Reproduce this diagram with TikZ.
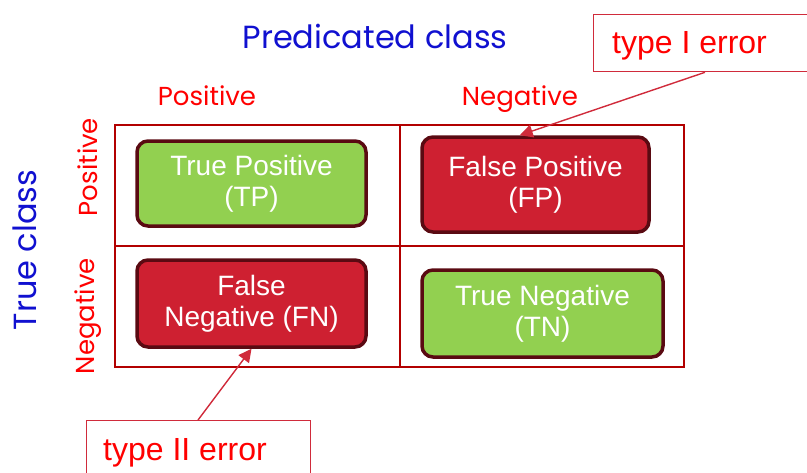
\documentclass[tikz,border=0pt]{standalone}
\usepackage{fontspec}
\setmainfont{Liberation Sans}
\newfontfamily\headfont{Poppins}
\usetikzlibrary{arrows.meta,calc}
\definecolor{gridred}{HTML}{B20000}
\definecolor{labelred}{HTML}{FF0000}
\definecolor{headblue}{HTML}{1010D0}
\definecolor{okgreen}{HTML}{92D050}
\definecolor{errred}{HTML}{CE2031}
\definecolor{rimdark}{HTML}{5A0A12}
\definecolor{calloutred}{HTML}{D02B3B}
\tikzset{
  cellbox/.style={rectangle, rounded corners=11pt, line width=3.5pt, draw=rimdark,
    text=white, align=center, inner sep=0pt,
    font=\fontsize{28}{31}\selectfont},
  goodbox/.style={cellbox, fill=okgreen},
  badbox/.style={cellbox, fill=errred},
  axislabel/.style={text=headblue, font=\headfont\fontsize{32}{36}\selectfont, inner sep=0pt},
  classlabel/.style={text=labelred, font=\headfont\fontsize{26}{30}\selectfont, inner sep=0pt},
  callout/.style={rectangle, draw=calloutred, line width=1.3pt, fill=white,
    anchor=north west, inner sep=0pt},
  callouttext/.style={text=labelred, font=\fontsize{32}{36}\selectfont, anchor=base west, inner sep=0pt},
  pointer/.style={draw=calloutred, line width=1.4pt,
    -{Triangle[length=13pt,width=13pt]}}
}
\begin{document}
\begin{tikzpicture}[x=1pt,y=-1pt]
\useasboundingbox (0,0) rectangle (807,472);

% axis titles
\node[axislabel, anchor=base] (pred) at (375,48) {Predicated class};
\node[axislabel, rotate=90] (truec) at (25,250) {True class};

% class labels
\node[classlabel, anchor=base] (colpos) at (207,105) {Positive};
\node[classlabel, anchor=base] (colneg) at (520,105) {Negative};
\node[classlabel, rotate=90] (rowpos) at (88,167) {Positive};
\node[classlabel, rotate=90] (rowneg) at (88,316) {Negative};

% confusion grid
\draw[gridred, line width=1.8pt] (115,125) rectangle (684,367);
\draw[gridred, line width=1.8pt] (400,125) -- (400,367);
\draw[gridred, line width=1.8pt] (115,246) -- (684,246);

% the four outcome boxes
\node[goodbox, minimum width=229pt, minimum height=85pt] (tp) at (251.5,183.5)
  {True Positive\\(TP)};
\node[badbox, minimum width=227pt, minimum height=95pt] (fp) at (535.5,184.5)
  {False Positive\\(FP)};
\node[badbox, minimum width=229pt, minimum height=87pt] (fn) at (251.5,303.5)
  {False\\Negative (FN)};
\node[goodbox, minimum width=241pt, minimum height=87pt] (tn) at (542.5,313.5)
  {True Negative\\(TN)};

% error callouts
\node[callout, minimum width=240pt, minimum height=57pt] (t1) at (593,14) {};
\node[callouttext] (t1txt) at (612,53) {type I error};
\node[callout, minimum width=224pt, minimum height=70pt] (t2) at (86,420) {};
\node[callouttext] (t2txt) at (103,460) {type II error};

\draw[pointer] ([xshift=112pt]t1.south west) -- ([xshift=-131pt]fp.north east);
\draw[pointer] ([xshift=112pt]t2.north west) -- (fn.south);
\end{tikzpicture}
\end{document}
